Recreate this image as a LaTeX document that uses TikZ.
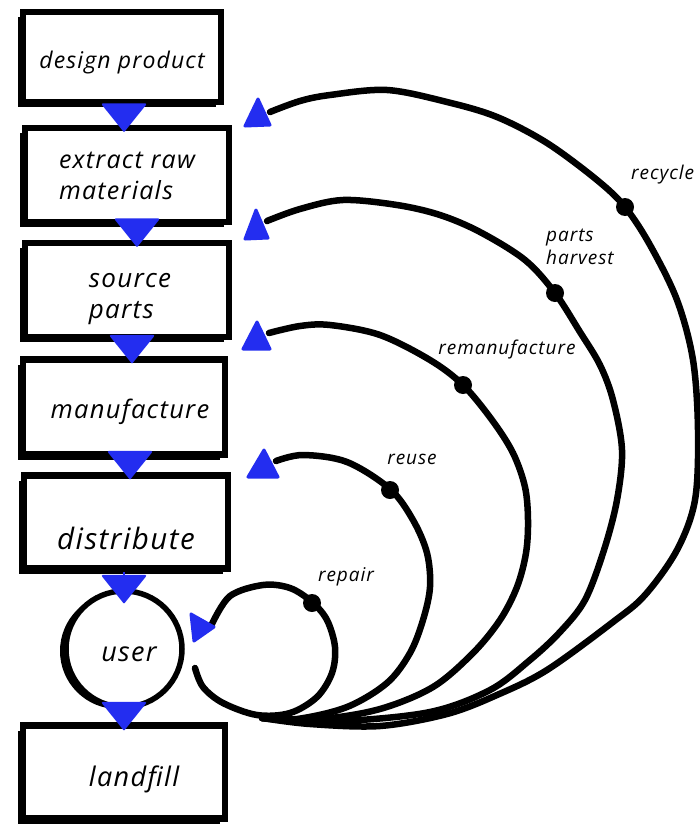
\documentclass[tikz,border=0pt]{standalone}
\usepackage{fontspec}
\setmainfont{Open Sans}[LetterSpace=5]
\usetikzlibrary{arrows.meta,shadows,calc}
\definecolor{arrblue}{RGB}{35,45,240}
\newcommand{\shiftdown}[2]{\raisebox{-#1}[\height][\depth]{#2}}
\tikzset{
  box/.style={rectangle, draw=black, line width=6.5pt, fill=white,
    general shadow={shadow xshift=-5pt, shadow yshift=-5pt, fill=black},
    minimum width=204pt, minimum height=94pt, inner sep=0pt, font=\itshape\fontsize{25}{30}\selectfont, align=left},
  userbox/.style={circle, draw=black, line width=5.5pt, fill=white,
    general shadow={shadow xshift=-6pt, shadow yshift=-2pt, fill=black},
    minimum size=116pt, inner sep=0pt, font=\itshape\fontsize{27}{30}\selectfont},
  downarr/.style={draw=arrblue, line width=2pt, -{Triangle[width=46pt,length=29pt,round,fill=arrblue]}},
  arc/.style={draw=black, line width=6.5pt, line cap=round, line join=round},
  dotmark/.style={circle, fill=black, minimum size=18pt, inner sep=0pt},
  lab/.style={font=\itshape\fontsize{19}{23}\selectfont, inner sep=0pt, align=left},
}
\begin{document}
\begin{tikzpicture}[x=1pt,y=-1pt]
\useasboundingbox[fill=white] (0,0) rectangle (699,830);

% boxes
\node[box, minimum width=198pt, minimum height=90pt, font=\itshape\fontsize{23}{29}\selectfont] (dp) at (122,57) {\shiftdown{6pt}{design product}};
\node[box] (er) at (127,175) {\shiftdown{3pt}{\begin{tabular}{@{}l@{}}extract raw\\[1pt]materials\end{tabular}}};
\node[box, font=\itshape\fontsize{26}{30}\selectfont] (sp) at (127,290) {\shiftdown{7pt}{\hspace*{6pt}\begin{tabular}{@{}l@{}}source\\[1pt]parts\end{tabular}}};
\node[box, minimum width=202pt, minimum height=95pt, font=\itshape\fontsize{25.5}{30}\selectfont] (mf) at (124,407) {\shiftdown{5pt}{\hspace*{12pt}manufacture}};
\node[box, minimum height=93pt, font=\itshape\fontsize{29.5}{32}\selectfont] (ds) at (126,522) {\shiftdown{16pt}{distribute}};
\node[userbox] (us) at (124,649) {\shiftdown{5pt}{\hspace*{10pt}user}};
\node[box, minimum width=202pt, minimum height=93pt, font=\itshape\fontsize{27}{30}\selectfont] (lf) at (124,772) {\shiftdown{7pt}{\hspace*{20pt}landfill}};

% down arrows between stages
\draw[downarr, shorten >=-7pt] ([xshift=2pt]dp.south) -- ([xshift=2pt]dp.south |- er.north);
\draw[downarr, shorten >=-7pt] ([xshift=10pt]er.south) -- ([xshift=10pt]er.south |- sp.north);
\draw[downarr, shorten >=-7pt] ([xshift=5pt]sp.south) -- ([xshift=5pt]sp.south |- mf.north);
\draw[downarr, shorten >=-7pt] ([xshift=6pt]mf.south) -- ([xshift=6pt]mf.south |- ds.north);
\draw[downarr, shorten >=-15pt] (ds.south -| us.north) -- (us.north);
\draw[downarr, shorten >=-8pt] (us.south) -- (us.south |- lf.north);

% return loops
\coordinate (hub) at (262,718);
\coordinate (rcT) at (270,112);
\coordinate (phT) at (267,221);
\coordinate (rmT) at (269,333);
\coordinate (ruT) at (276,461);
\coordinate (rpT) at (212,624);
\coordinate (rpS) at (195,668);

\draw[arc] plot[smooth, tension=0.55] coordinates {(rcT) (300,101) (330,95) (387,90) (447,102) (497,117) (547,143) (597,180) (625,207) (650,245) (677,300) (693,360) (698,430) (695,500) (677,550) (645,595) (613,622) (547,670) (497,695) (447,714) (380,726) (310,724) (hub)};
\draw[arc] plot[smooth, tension=0.55] coordinates {(phT) (300,209) (343,200) (397,205) (440,215) (480,232) (525,260) (555,293) (580,332) (600,365) (613,400) (622,450) (617,500) (604,550) (585,600) (560,632) (530,660) (490,690) (430,712) (340,721) (hub)};
\draw[arc] plot[smooth, tension=0.55] coordinates {(rmT) (300,326) (330,325) (380,335) (430,360) (463,385) (492,420) (513,453) (525,487) (528,520) (526,553) (517,587) (500,620) (473,653) (433,687) (380,709) (320,719) (hub)};
\draw[arc] plot[smooth, tension=0.55] coordinates {(ruT) (303,455) (347,462) (390,489) (413,520) (427,553) (430,587) (423,620) (410,653) (387,683) (347,707) (297,719) (hub)};
\draw[arc] plot[smooth, tension=0.55] coordinates {(rpT) (230,596) (263,585) (290,588) (312,602) (327,620) (335,647) (332,673) (317,697) (290,713) (257,715) (223,703) (203,687) (rpS)};

% arrowheads of the loops
\fill[arrblue, draw=arrblue, line width=3pt, line join=round] ($(rcT)+(-12,-13)$) -- ($(rcT)+(0,13)$) -- ($(rcT)+(-25,14)$) -- cycle;
\fill[arrblue, draw=arrblue, line width=3pt, line join=round] ($(phT)+(-11,-11)$) -- ($(phT)+(1,17)$) -- ($(phT)+(-22,18)$) -- cycle;
\fill[arrblue, draw=arrblue, line width=3pt, line join=round] ($(rmT)+(-12,-11)$) -- ($(rmT)+(1,16)$) -- ($(rmT)+(-26,16)$) -- cycle;
\fill[arrblue, draw=arrblue, line width=3pt, line join=round] ($(ruT)+(-12,-11)$) -- ($(ruT)+(2,16)$) -- ($(ruT)+(-28,16)$) -- cycle;
\fill[arrblue, draw=arrblue, line width=3pt, line join=round] ($(rpT)+(-21,-10)$) -- ($(rpT)+(2,3)$) -- ($(rpT)+(-18,17)$) -- cycle;

% dots
\node[dotmark] (rcD) at (625,207) {};
\node[dotmark] (phD) at (555,293) {};
\node[dotmark] (rmD) at (463,385) {};
\node[dotmark] (ruD) at (390,490) {};
\node[dotmark] (rpD) at (312,603) {};

% labels
\node[lab, anchor=west] (rcL) at (631,175) {recycle};
\node[lab, anchor=north west] (phL) at (546,229) {parts\\harvest};
\node[lab] (rmL) at (507,350) {remanufacture};
\node[lab] (ruL) at (412,459) {reuse};
\node[lab] (rpL) at (346,577) {repair};
\end{tikzpicture}
\end{document}
